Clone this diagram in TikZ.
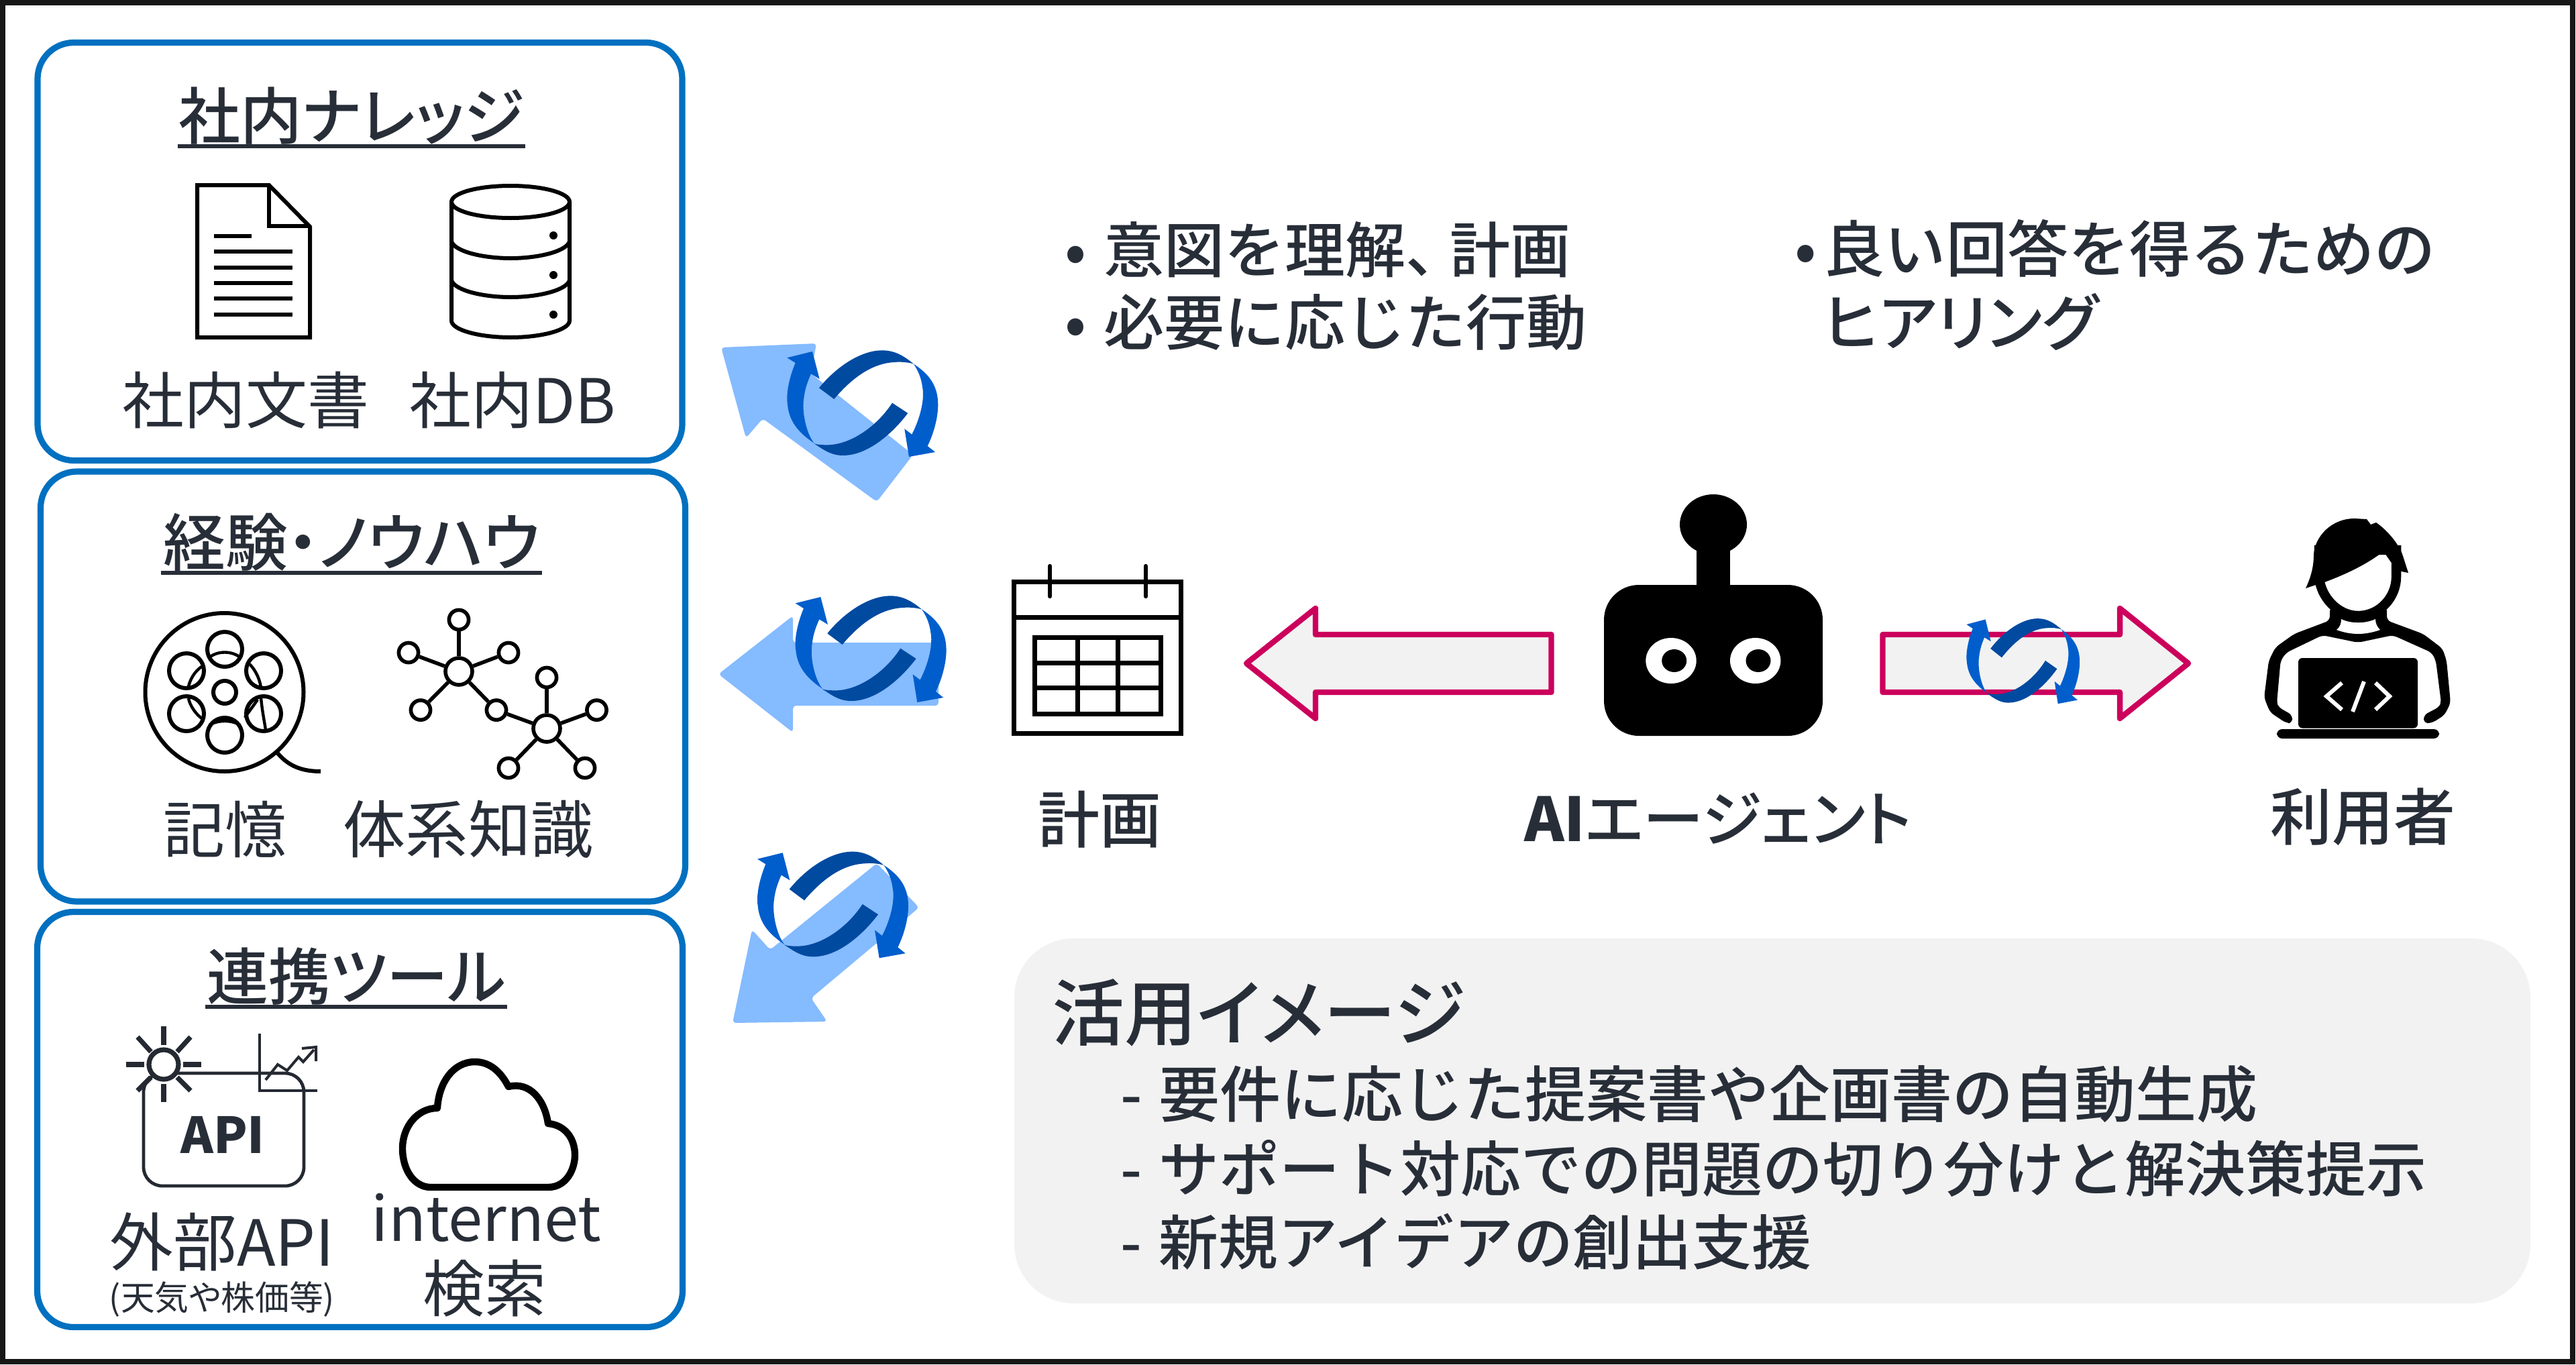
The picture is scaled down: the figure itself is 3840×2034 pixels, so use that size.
\documentclass[tikz,border=0pt]{standalone}
\usepackage{fontspec}
\setmainfont[RawFeature=+palt]{Noto Sans CJK JP}
\newfontfamily\medf[RawFeature=+palt]{Noto Sans CJK JP Medium}
\newfontfamily\fullf{Noto Sans CJK JP Medium}
\definecolor{ink}{HTML}{282E38}
\definecolor{boxblue}{HTML}{0070C0}
\definecolor{rose}{HTML}{CC005C}
\definecolor{panelgray}{HTML}{F2F2F2}
\definecolor{lightarrow}{HTML}{85BBFF}
\definecolor{midblue}{HTML}{005ECC}
\definecolor{deepblue}{HTML}{004AA0}
\definecolor{frame}{HTML}{171717}
\newcommand\fs[1]{\fontsize{#1}{#1}\selectfont}
\tikzset{
  txt/.style={inner sep=0pt,text=ink,font=\fs{23}},
  sect/.style={inner sep=0pt,text=ink,font=\medf\fs{23}},
  mid/.style={inner sep=0pt,text=ink,font=\medf\fs{23}},
  groupbox/.style={draw=boxblue,line width=2.3pt,rounded corners=13.5pt,fill=white},
  uline/.style={draw=ink,line width=1.35pt},
  icon/.style={draw=black,line width=1.5pt},
  iconthin/.style={draw=black,line width=1.1pt},
  hub/.style={circle,draw=black,line width=1.4pt,fill=white,minimum size=10pt,inner sep=0pt},
  leaf/.style={circle,draw=black,line width=1.4pt,fill=white,minimum size=7.3pt,inner sep=0pt},
  link/.style={draw=black,line width=1.4pt},
  blockarrow/.style={draw=rose,fill=panelgray,line width=2.1pt,line join=round},
  softarrow/.style={fill=lightarrow,rounded corners=1.2pt},
  apiline/.style={draw=ink!90!black,line width=1.2pt},
}
\newcommand\cyc[3]{%
\begin{scope}[shift={(#1)},xscale=#2,yscale=#3]
 \fill[midblue] (573,132) -- (460,160) -- (497,183) .. controls (465,260) and (455,330) .. (462,370) .. controls (470,460) and (530,510) .. (600,555) -- (583,545) .. controls (545,500) and (525,400) .. (535,340) .. controls (540,300) and (550,270) .. (567,232) -- (605,255) -- cycle;
 \fill[midblue] (1025,187) .. controls (1090,230) and (1135,280) .. (1135,370) .. controls (1135,430) and (1115,500) .. (1088,555) -- (1122,582) -- (1005,603) -- (985,478) -- (1018,503) .. controls (1060,420) and (1075,340) .. (1065,290) .. controls (1060,250) and (1045,215) .. (1025,187) -- cycle;
 \fill[deepblue] (1000,408) .. controls (930,500) and (820,597) .. (710,597) .. controls (670,597) and (640,585) .. (583,545) .. controls (600,550) and (625,550) .. (640,550) .. controls (740,550) and (860,470) .. (930,362) -- cycle;
 \fill[deepblue] (603,295) .. controls (680,200) and (790,127) .. (885,127) .. controls (940,127) and (980,150) .. (1025,187) .. controls (990,178) and (960,178) .. (940,180) .. controls (840,185) and (750,250) .. (670,345) -- cycle;
\end{scope}}
\begin{document}
\begin{tikzpicture}[x=0.25pt,y=-0.25pt]
\useasboundingbox (0,0) rectangle (3840,2034);
\fill[white] (0,0) rectangle (3840,2034);
\draw[frame,line width=2.2pt] (4,4) rectangle (3835,2030);

% group boxes
\draw[groupbox] (56,63.5) rectangle (1017,686.5);
\draw[groupbox] (60.5,703) rectangle (1021.5,1344);
\draw[groupbox] (55.5,1359.5) rectangle (1017.5,1978.5);

% box 1
\node[sect] (t1) at (524,173) {社内ナレッジ};
\draw[uline] (265,218) -- (783,218);
\draw[icon,fill=white,line join=miter] (294,276) -- (401,276) -- (462,338) -- (462,503) -- (294,503) -- cycle;
\draw[icon,line join=miter] (401,276) -- (401,337) -- (462,337);
\foreach \yy/\xe in {352/375,375/436,398.5/436,422/436,445/436,469/436}
  \draw[icon] (319,\yy) -- (\xe,\yy);
\draw[icon,fill=white] (673,301) -- (673,478) .. controls (673,492) and (715,503) .. (761,503) .. controls (807,503) and (849,492) .. (849,478) -- (849,301);
\draw[icon] (761,301) ellipse (88 and 24);
\draw[icon] (673,360) .. controls (678,375) and (720,385) .. (761,385) .. controls (802,385) and (844,375) .. (849,360);
\draw[icon] (673,418) .. controls (678,433) and (720,443) .. (761,443) .. controls (802,443) and (844,433) .. (849,418);
\foreach \yy in {351,410,469} \fill[black] (825,\yy) circle (6);
\node[txt] (l1a) at (366,597) {社内文書};
\node[txt] (l1b) at (764,597) {社内DB};

% box 2
\node[sect,font=\medf\fs{23.2}] (t2) at (524,808) {経験・ノウハウ};
\draw[uline] (240,854) -- (808,854);
\draw[icon] (334.5,1032) circle (118);
\draw[icon] (335,1032) circle (17);
\foreach \xx/\yy in {335/968,278/1000,393/1000,278/1064,393/1064,335/1096}
  \draw[icon] (\xx,\yy) circle (26);
\draw[iconthin] (312,980) .. controls (325,970) and (345,970) .. (358,980);
\draw[iconthin] (312,1081) .. controls (325,1073) and (345,1073) .. (358,1081);
\draw[iconthin] (302,993) .. controls (290,1000) and (282,1015) .. (280.6,1026);
\draw[iconthin] (372,990) .. controls (382,1000) and (388,1015) .. (389,1026);
\draw[iconthin] (281,1041) .. controls (283,1052) and (292,1065) .. (302,1072);
\draw[iconthin] (389,1039) .. controls (390,1055) and (394,1075) .. (396,1088);
\draw[iconthin] (365,1070) .. controls (370,1062) and (378,1052) .. (384,1043);
\draw[icon] (414,1123) .. controls (430,1142) and (450,1150) .. (478,1150);

\node[hub] (h1) at (684,1001) {};
\node[leaf] (a1) at (684,924) {};
\node[leaf] (a2) at (609,973) {};
\node[leaf] (a3) at (758,973) {};
\node[leaf] (a4) at (627,1058.6) {};
\node[leaf] (a5) at (740,1058.6) {};
\node[hub] (h2) at (815,1086) {};
\node[leaf] (b1) at (815,1010) {};
\node[leaf] (b2) at (889.5,1058.6) {};
\node[leaf] (b3) at (758,1145) {};
\node[leaf] (b4) at (872,1145) {};
\foreach \n in {a1,a2,a3,a4,a5} \draw[link] (h1) -- (\n);
\foreach \n in {a5,b1,b2,b3,b4} \draw[link] (h2) -- (\n);

\node[txt] (l2a) at (335,1236) {記憶};
\node[txt,font=\fs{23.3}] (l2b) at (698,1236) {体系知識};

% box 3
\node[sect] (t3) at (531,1456) {連携ツール};
\draw[uline] (306,1501) -- (756,1501);
\draw[apiline,rounded corners=7pt] (214,1600) rectangle (453,1768);
\node[inner sep=0pt,text=ink,font=\bfseries\fs{18.5}] (api) at (332,1692) {API};
\draw[apiline] (387,1541) -- (387,1626) -- (473,1626);
\draw[apiline,line width=1pt,line join=miter] (396,1610) -- (414,1587) -- (428,1596) -- (445,1576) -- (452,1583) -- (468,1565);
\draw[apiline,line width=1pt] (450,1563) -- (471,1561) -- (471,1582);
\draw[apiline,line width=1.8pt,fill=white] (244,1587) circle (22);
\foreach \xa/\ya/\xb/\yb in {244/1530/244/1558, 244/1616/244/1643, 188/1587/215/1587, 273/1587/300/1587, 205/1546/225/1568, 284/1546/264/1568, 205/1626/225/1606, 284/1626/264/1606}
  \draw[apiline,line width=1.8pt] (\xa,\ya) -- (\xb,\yb);
\draw[black,line width=2.6pt,fill=white,line join=round] (642,1770) -- (817,1770) .. controls (845,1770) and (857,1742) .. (857,1722) .. controls (857,1697) and (842,1677) .. (817,1675) .. controls (812,1640) and (790,1612) .. (758,1620) .. controls (745,1595) and (728,1583) .. (708,1583) .. controls (675,1583) and (654,1615) .. (652,1652) .. controls (622,1652) and (600,1680) .. (600,1712) .. controls (600,1745) and (618,1770) .. (642,1770) -- cycle;
\node[txt,font=\fs{23.7}] (l3a) at (331,1851) {外部API};
\node[inner sep=0pt,text=ink,font=\fs{12.7}] (l3c) at (331,1937) {(天気や株価等)};
\node[txt] (l3b) at (725,1815) {internet};
\node[txt] (l3d) at (722,1921) {検索};

% soft arrows + cycles
\fill[softarrow] (1075,518) -- (1217,512) -- (1209,557) -- (1361,678) -- (1307,748) -- (1137,624) -- (1112,653) -- cycle;
\cyc{1020,480}{0.3333}{0.3333}
\fill[softarrow] (1071,1005) -- (1182,918) -- (1182,958) -- (1399,958) -- (1399,1052) -- (1182,1052) -- (1182,1092) -- cycle;
\cyc{1032.3,846}{0.3333}{0.3333}
\fill[softarrow] (1092,1525) -- (1121,1386) -- (1148,1416) -- (1307,1287) -- (1370,1353) -- (1209,1488) -- (1233,1523) -- cycle;
\cyc{975.7,1227.3}{0.3333}{0.3333}

% calendar
\draw[black,line width=1.75pt,line join=miter] (1511.5,867.5) rectangle (1760.5,1093.5);
\draw[black,line width=1.75pt] (1511.5,920) -- (1760.5,920);
\draw[black,line width=1.6pt,line cap=round] (1565,844) -- (1565,889);
\draw[black,line width=1.6pt,line cap=round] (1708,844) -- (1708,889);
\draw[black,line width=1.75pt,line join=miter] (1542.5,950.5) rectangle (1730.5,1064.5);
\foreach \xx in {1606,1666} \draw[black,line width=1.75pt] (\xx,950.5) -- (\xx,1064.5);
\foreach \yy in {988,1025} \draw[black,line width=1.75pt] (1542.5,\yy) -- (1730.5,\yy);
\node[mid] (plan) at (1639,1222) {計画};

% block arrows
\draw[blockarrow] (1858,989) -- (1961,907) -- (1961,946) -- (2312.5,946) -- (2312.5,1032) -- (1961,1032) -- (1961,1071) -- cycle;
\draw[blockarrow] (3262,989) -- (3160,907) -- (3160,946) -- (2806.5,946) -- (2806.5,1032) -- (3160,1032) -- (3160,1071) -- cycle;
\cyc{2816.4,888.2}{0.25}{0.267}

% robot
\fill[black] (2554,782) ellipse (50 and 45);
\fill[black] (2529,800) rectangle (2579,900);
\fill[black,rounded corners=13pt] (2391,872) rectangle (2717,1097);
\fill[white] (2491,985) ellipse (37.7 and 34);
\fill[black] (2495.7,985) ellipse (18.5 and 17);
\fill[white] (2616.7,985) ellipse (37.7 and 34);
\fill[black] (2621,985) ellipse (18.5 and 17);
\node[inner sep=0pt,text=ink,font=\fs{22.6}] (agent) at (2561,1220) {{\bfseries AI}{\medf エージェント}};

% person
\fill[black,rounded corners=1.6pt] (3417,1078) -- (3408,1078) -- (3384,1062) -- (3375,1040) -- (3382,985) -- (3392,965) -- (3420,945) -- (3473,925) -- (3473,905) -- (3558,905) -- (3558,925) -- (3612,945) -- (3641,967) -- (3647,985) -- (3653,1048) -- (3644,1066) -- (3625,1078) -- (3613,1078) -- (3613,1066) -- (3636,1054) -- (3639,1048) -- (3631,985) -- (3625,973) -- (3567,947) -- (3515,958) -- (3462,947) -- (3408,973) -- (3399.6,985) -- (3394,1048) -- (3396,1054) -- (3417,1066) -- cycle;
\fill[white] (3490,923) .. controls (3505,930) and (3525,930) .. (3541,923) .. controls (3541,930) and (3544,935) .. (3548,939) .. controls (3525,947) and (3505,947) .. (3483,939) .. controls (3488,935) and (3490,930) .. (3490,923) -- cycle;
\draw[black,line width=3.6pt,fill=white] (3457,860) .. controls (3459,890) and (3485,918) .. (3515,918) .. controls (3548,918) and (3572,890) .. (3572,860) -- (3572,820) -- (3457,820) -- cycle;
\fill[black] (3437,877) .. controls (3445,860) and (3449,845) .. (3449,826) .. controls (3451,800) and (3475,773) .. (3510,773) -- (3528,774) -- (3534,782) -- (3542,779) .. controls (3558,790) and (3575,810) .. (3581,826) -- (3590,854) -- (3580,852) -- (3564,838) -- (3553,822) .. controls (3530,840) and (3500,855) .. (3465,868) -- (3449,873) -- cycle;
\fill[black,rounded corners=1.5pt] (3426,1085.5) -- (3426,981) -- (3604,981) -- (3604,1085.5) -- cycle;
\fill[black,rounded corners=2pt] (3394,1087) -- (3636,1087) -- (3636,1101) -- (3394,1101) -- cycle;
\draw[white,line width=1.5pt,line join=miter] (3491,1018) -- (3468,1038) -- (3491,1058);
\draw[white,line width=1.5pt] (3524,1016) -- (3507,1061);
\draw[white,line width=1.5pt,line join=miter] (3541,1018) -- (3562,1038) -- (3541,1058);
\node[mid] (user) at (3522,1218) {利用者};

% top texts
\node[inner sep=0pt,text=ink,font=\fullf\fs{22.5},anchor=west] (n1) at (1587,372) {\makebox[14.5pt][l]{•}意図を理解、\kern-6pt 計画};
\node[inner sep=0pt,text=ink,font=\fullf\fs{22.5},anchor=west] (n2) at (1587,481) {\makebox[14.5pt][l]{•}必要に応じた行動};
\node[inner sep=0pt,text=ink,font=\fullf\fs{22.8},anchor=west] (n3) at (2675,370) {\makebox[10.7pt][l]{•}良い回答を得るための};
\node[inner sep=0pt,text=ink,font=\medf\fs{23},anchor=west] (n4) at (2718,480) {ヒアリング};

% panel
\fill[panelgray,rounded corners=22pt] (1512,1399) rectangle (3772,1943);
\node[inner sep=0pt,text=ink,font=\medf\fs{27},anchor=west] (p0) at (1568,1510) {活用イメージ};
\node[inner sep=0pt,text=ink,font=\fullf\fs{22.75},anchor=west] (p1) at (1670,1631) {\makebox[14.2pt][l]{-}要件に応じた提案書や企画書の自動生成};
\node[inner sep=0pt,text=ink,font=\fullf\fs{22.5},anchor=west] (p2) at (1670,1742) {\makebox[14.2pt][l]{-}サポート対応での問題の切り分けと解決策提示};
\node[inner sep=0pt,text=ink,font=\fullf\fs{22.2},anchor=west] (p3) at (1670,1851) {\makebox[14.2pt][l]{-}新規アイデアの創出支援};
\end{tikzpicture}
\end{document}
